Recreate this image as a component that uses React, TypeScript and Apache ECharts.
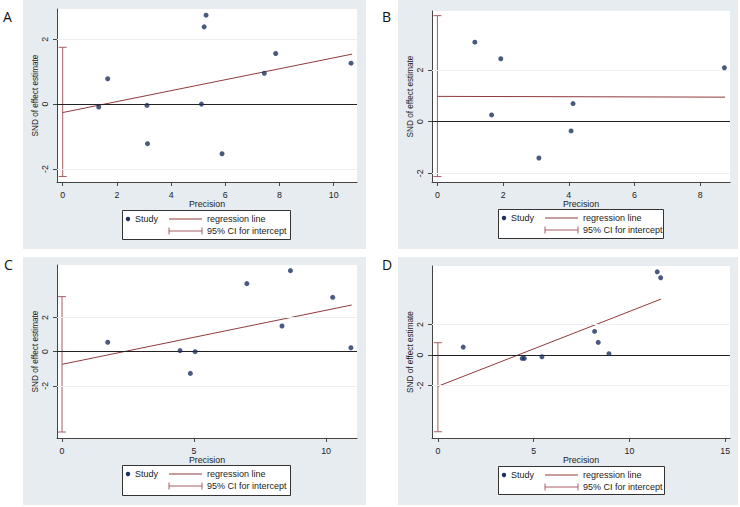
import { useEffect, useRef } from "react";
import * as echarts from "echarts";

// ---------- Data ----------
// Panel A
const precisionA = [1.33, 1.66, 3.11, 3.13, 5.12, 5.22, 5.29, 5.88, 7.44, 7.86, 10.64];
const sndA = [-0.09, 0.78, -0.04, -1.22, 0.0, 2.38, 2.74, -1.53, 0.95, 1.56, 1.26];
const regLineA = [[0, -0.26], [10.68, 1.54]];
const ciA = [-2.23, 1.75];
const xTicksA = [0, 2, 4, 6, 8, 10];

// Panel B
const precisionB = [1.14, 1.65, 1.93, 3.09, 4.07, 4.13, 8.74];
const sndB = [3.08, 0.26, 2.44, -1.41, -0.36, 0.7, 2.09];
const regLineB = [[0, 0.98], [8.76, 0.95]];
const ciB = [-2.13, 4.11];
const xTicksB = [0, 2, 4, 6, 8];

// Panel C
const precisionC = [1.73, 4.47, 4.86, 5.04, 7.0, 8.33, 8.65, 10.25, 10.94];
const sndC = [0.55, 0.06, -1.27, 0.0, 3.98, 1.5, 4.74, 3.18, 0.23];
const regLineC = [[0, -0.74], [10.97, 2.73]];
const ciC = [-4.7, 3.22];
const xTicksC = [0, 5, 10];

// Panel D
const precisionD = [1.32, 4.4, 4.51, 5.43, 8.18, 8.37, 8.93, 11.45, 11.63];
const sndD = [0.52, -0.22, -0.22, -0.11, 1.55, 0.83, 0.09, 5.46, 5.07];
const regLineD = [[0, -2.05], [11.65, 3.67]];
const ciD = [-5.03, 0.81];
const xTicksD = [0, 5, 10, 15];

const yTicks = [-2, 0, 2];
const panelLetters = ["A", "B", "C", "D"];
const xTitle = "Precision";
const yTitle = "SND of effect estimate";
const legendLabels = ["Study", "regression line", "95% CI for intercept"];

// ---------- Styles / layout ----------
const FONT = "'Liberation Sans', Arial, sans-serif";
const BG = "#E7ECF1";
const NAVY = "#1C3160";
const MAROON = "#8F3A3C";
const CI_COLOR = "#A65E62";
const GRIDC = "#ECF0F3";
const AXIS = "#444";
const TXT = "#222";

const panels = [
  { x: precisionA, y: sndA, reg: regLineA, ci: ciA, xt: xTicksA },
  { x: precisionB, y: sndB, reg: regLineB, ci: ciB, xt: xTicksB },
  { x: precisionC, y: sndC, reg: regLineC, ci: ciC, xt: xTicksC },
  { x: precisionD, y: sndD, reg: regLineD, ci: ciD, xt: xTicksD },
];

const layouts = [
  { bg: [23, 0, 343, 249], grid: [57, 9, 300, 173], xr: [-0.21, 10.86], yr: [-2.4, 2.93], legend: [122, 210, 168, 29], letter: [3, 9] },
  { bg: [398, 0, 340, 249], grid: [432, 11, 298, 171], xr: [-0.165, 8.91], yr: [-2.34, 4.29], legend: [498, 209, 165, 29], letter: [382, 9] },
  { bg: [23, 257, 343, 248], grid: [57, 265, 300, 173], xr: [-0.19, 11.17], yr: [-5.05, 5.07], legend: [122, 465, 168, 30], letter: [4, 257] },
  { bg: [398, 257, 340, 248], grid: [432, 266, 298, 172], xr: [-0.31, 15.25], yr: [-5.44, 5.84], legend: [498, 466, 166, 28], letter: [382, 257] },
];

function legendEls(bx: number, by: number, bw: number, bh: number) {
  const r1 = by + 9;
  const r2 = by + 21;
  const l1 = bx + 47;
  const l2 = bx + 80;
  const txt = (s: string, x: number, y: number) => ({
    type: "text",
    z: 20,
    style: { text: s, x, y, verticalAlign: "middle", fontSize: 9, fontFamily: FONT, fill: TXT },
  });
  const ln = (x1: number, y1: number, x2: number, y2: number, c: string) => ({
    type: "line",
    z: 20,
    shape: { x1, y1, x2, y2 },
    style: { stroke: c, lineWidth: 1 },
  });
  return [
    { type: "rect", z: 19, shape: { x: bx + 0.5, y: by + 0.5, width: bw, height: bh }, style: { fill: "#fff", stroke: "#333", lineWidth: 1 } },
    { type: "circle", z: 20, shape: { cx: bx + 6, cy: r1, r: 2.2 }, style: { fill: NAVY } },
    txt(legendLabels[0], bx + 13, r1),
    ln(l1, r1, l2, r1, MAROON),
    txt(legendLabels[1], bx + 85, r1),
    ln(l1, r2, l2, r2, CI_COLOR),
    ln(l1, r2 - 3.5, l1, r2 + 3.5, CI_COLOR),
    ln(l2, r2 - 3.5, l2, r2 + 3.5, CI_COLOR),
    txt(legendLabels[2], bx + 85, r2),
  ];
}

export default function App() {
  const ref = useRef<HTMLDivElement>(null);

  useEffect(() => {
    if (!ref.current) return;
    const chart = echarts.init(ref.current, undefined, { renderer: "svg" });

    const graphic: any[] = [];
    layouts.forEach((l, i) => {
      graphic.push({ type: "rect", z: -2, shape: { x: l.bg[0], y: l.bg[1], width: l.bg[2], height: l.bg[3] }, style: { fill: BG } });
      graphic.push({ type: "rect", z: -1, shape: { x: l.grid[0], y: l.grid[1], width: l.grid[2], height: l.grid[3] }, style: { fill: "#fff" } });
      graphic.push({
        type: "text",
        z: 20,
        style: { text: panelLetters[i], x: l.letter[0], y: l.letter[1], fontSize: 14, fontFamily: "'Open Sans', 'Noto Sans', sans-serif", fill: "#111" },
      });
      graphic.push(...legendEls(l.legend[0], l.legend[1], l.legend[2], l.legend[3]));
    });

    const grid = layouts.map((l) => ({ left: l.grid[0], top: l.grid[1], width: l.grid[2], height: l.grid[3], containLabel: false }));

    const xAxis = layouts.map((l, i) => ({
      gridIndex: i,
      type: "value",
      min: l.xr[0],
      max: l.xr[1],
      axisLine: { show: true, onZero: false, lineStyle: { color: AXIS, width: 1 } },
      axisTick: { show: true, length: 4, customValues: panels[i].xt, lineStyle: { color: AXIS } },
      axisLabel: { customValues: panels[i].xt, fontSize: 8.8, color: TXT, margin: 8, fontFamily: FONT },
      splitLine: { show: false },
      name: xTitle,
      nameLocation: "middle",
      nameGap: 14,
      nameTextStyle: { fontSize: 8.8, color: TXT, fontFamily: FONT },
    }));

    const yAxis = layouts.map((l, i) => ({
      gridIndex: i,
      type: "value",
      min: l.yr[0],
      max: l.yr[1],
      axisLine: { show: true, onZero: false, lineStyle: { color: AXIS, width: 1 } },
      axisTick: { show: true, length: 4, customValues: yTicks, lineStyle: { color: AXIS } },
      axisLabel: { customValues: yTicks, fontSize: 8.8, color: TXT, margin: 8, rotate: 90, fontFamily: FONT },
      splitLine: { show: false },
      name: yTitle,
      nameLocation: "middle",
      nameGap: 16,
      nameTextStyle: { fontSize: 8.2, color: TXT, fontFamily: FONT },
    }));

    const series: any[] = [];
    panels.forEach((p, i) => {
      // gridlines
      series.push({
        type: "line",
        xAxisIndex: i,
        yAxisIndex: i,
        data: [],
        silent: true,
        z: 1,
        markLine: {
          silent: true,
          symbol: ["none", "none"],
          label: { show: false },
          lineStyle: { color: GRIDC, width: 1, type: "solid" },
          data: yTicks.filter((v) => v !== 0).map((v) => ({ yAxis: v })),
        },
      });
      // zero line
      series.push({
        type: "line",
        xAxisIndex: i,
        yAxisIndex: i,
        data: [],
        silent: true,
        z: 2,
        markLine: {
          silent: true,
          symbol: ["none", "none"],
          label: { show: false },
          lineStyle: { color: "#222", width: 1, type: "solid" },
          data: [{ yAxis: 0 }],
        },
      });
      // CI for intercept
      series.push({
        type: "custom",
        xAxisIndex: i,
        yAxisIndex: i,
        z: 3,
        data: [[0, p.ci[0], p.ci[1]]],
        encode: { x: 0, y: [1, 2] },
        renderItem: (_params: any, api: any) => {
          const x = api.value(0);
          const lo = api.coord([x, api.value(1)]);
          const hi = api.coord([x, api.value(2)]);
          const cap = 4;
          const st = { stroke: CI_COLOR, lineWidth: 1 };
          return {
            type: "group",
            children: [
              { type: "line", shape: { x1: lo[0], y1: lo[1], x2: hi[0], y2: hi[1] }, style: st },
              { type: "line", shape: { x1: lo[0] - cap, y1: lo[1], x2: lo[0] + cap, y2: lo[1] }, style: st },
              { type: "line", shape: { x1: hi[0] - cap, y1: hi[1], x2: hi[0] + cap, y2: hi[1] }, style: st },
            ],
          };
        },
      });
      // regression line
      series.push({
        type: "line",
        xAxisIndex: i,
        yAxisIndex: i,
        z: 4,
        data: p.reg,
        showSymbol: false,
        symbol: "none",
        lineStyle: { color: MAROON, width: 1 },
      });
      // studies
      series.push({
        type: "scatter",
        xAxisIndex: i,
        yAxisIndex: i,
        z: 5,
        data: p.x.map((v, k) => [v, p.y[k]]),
        symbol: "circle",
        symbolSize: 5,
        itemStyle: { color: NAVY },
      });
    });

    chart.setOption({
      animation: false,
      backgroundColor: "#fff",
      graphic,
      grid,
      xAxis,
      yAxis,
      series,
    });

    return () => chart.dispose();
  }, []);

  return <div ref={ref} style={{ position: "fixed", left: 0, top: 0, width: 740, height: 507 }} />;
}
